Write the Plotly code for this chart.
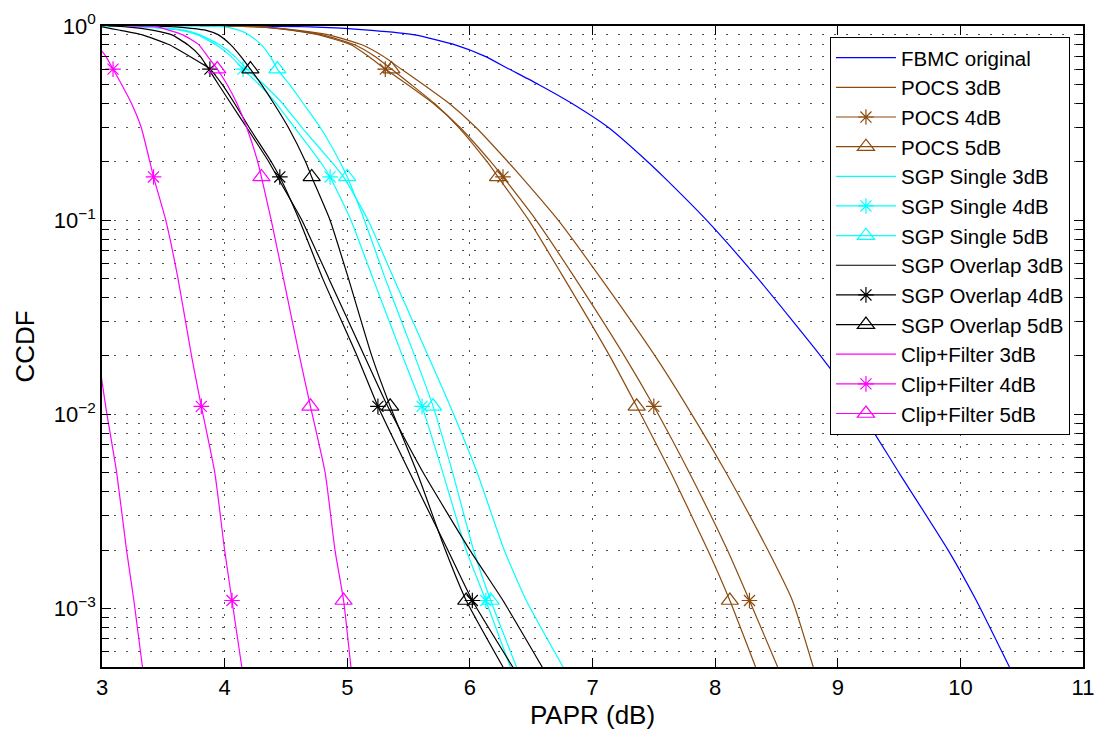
import math
import plotly.graph_objects as go

CCDF_LEVELS = [1.0, 0.99, 0.95, 0.9, 0.8, 0.7, 0.6, 0.5, 0.4, 0.3, 0.2, 0.167,
               0.1, 0.05, 0.02, 0.011, 0.005, 0.002, 0.0011, 0.0005]
# levels where the marker symbols are drawn
MARKER_LEVELS = [0.6, 0.167, 0.011, 0.0011]

fbmc_original = [3.8, 4.7, 5.2, 5.55, 5.88, 6.12, 6.32, 6.56, 6.83, 7.13, 7.45, 7.58,
                 7.93, 8.35, 8.86, 9.16, 9.50, 9.90, 10.13, 10.40]

pocs_3db = [3.8, 4.29, 4.60, 4.85, 5.12, 5.29, 5.44, 5.62, 5.83, 6.05, 6.31, 6.42,
            6.72, 7.07, 7.51, 7.77, 8.09, 8.43, 8.63, 8.80]
pocs_4db = [3.8, 4.27, 4.55, 4.77, 5.03, 5.17, 5.31, 5.49, 5.70, 5.92, 6.17, 6.27,
            6.54, 6.86, 7.26, 7.50, 7.79, 8.10, 8.28, 8.51]
pocs_5db = [3.8, 4.28, 4.57, 4.80, 5.06, 5.22, 5.36, 5.52, 5.71, 5.91, 6.14, 6.23,
            6.48, 6.77, 7.14, 7.36, 7.64, 7.94, 8.12, 8.33]

sgp_single_3db = [3.0, 3.35, 3.68, 3.80, 3.96, 4.08, 4.18, 4.32, 4.47, 4.63, 4.87, 4.97,
                  5.17, 5.38, 5.66, 5.84, 6.06, 6.28, 6.46, 6.76]
sgp_single_4db = [3.0, 3.30, 3.65, 3.78, 3.93, 4.05, 4.15, 4.28, 4.42, 4.57, 4.78, 4.86,
                  5.03, 5.21, 5.45, 5.61, 5.78, 5.97, 6.13, 6.33]
sgp_single_5db = [3.5, 4.0, 4.12, 4.20, 4.30, 4.37, 4.43, 4.53, 4.64, 4.78, 4.94, 5.00,
                  5.14, 5.31, 5.55, 5.70, 5.86, 6.03, 6.17, 6.38]

sgp_overlap_3db = [3.05, 3.2, 3.42, 3.57, 3.70, 3.80, 3.87, 3.95, 4.05, 4.18, 4.36, 4.43,
                   4.63, 4.85, 5.14, 5.33, 5.62, 6.00, 6.27, 6.59]
sgp_overlap_4db = [2.9, 3.0, 3.15, 3.33, 3.55, 3.71, 3.88, 3.98, 4.08, 4.20, 4.38, 4.45,
                   4.61, 4.80, 5.08, 5.25, 5.51, 5.82, 6.02, 6.35]
sgp_overlap_5db = [3.3, 3.6, 3.85, 3.95, 4.05, 4.13, 4.21, 4.30, 4.40, 4.52, 4.66, 4.71,
                   4.86, 5.01, 5.20, 5.35, 5.57, 5.80, 5.97, 6.27]

clip_filter_3db = [2.2, 2.3, 2.4, 2.45, 2.5, 2.55, 2.58, 2.62, 2.65, 2.68, 2.73, 2.75,
                   2.80, 2.88, 2.97, 3.03, 3.12, 3.20, 3.26, 3.33]
clip_filter_4db = [2.3, 2.6, 2.78, 2.86, 2.95, 3.03, 3.09, 3.16, 3.24, 3.32, 3.39, 3.42,
                   3.52, 3.62, 3.73, 3.81, 3.92, 4.00, 4.06, 4.14]
clip_filter_5db = [3.2, 3.45, 3.55, 3.66, 3.79, 3.86, 3.94, 4.02, 4.10, 4.18, 4.27, 4.30,
                   4.38, 4.48, 4.61, 4.70, 4.82, 4.90, 4.97, 5.03]

SERIES_NAMES = ["FBMC original", "POCS 3dB", "POCS 4dB", "POCS 5dB",
                "SGP Single 3dB", "SGP Single 4dB", "SGP Single 5dB",
                "SGP Overlap 3dB", "SGP Overlap 4dB", "SGP Overlap 5dB",
                "Clip+Filter 3dB", "Clip+Filter 4dB", "Clip+Filter 5dB"]
SERIES_X = [fbmc_original, pocs_3db, pocs_4db, pocs_5db,
            sgp_single_3db, sgp_single_4db, sgp_single_5db,
            sgp_overlap_3db, sgp_overlap_4db, sgp_overlap_5db,
            clip_filter_3db, clip_filter_4db, clip_filter_5db]

X_TICKS = [3, 4, 5, 6, 7, 8, 9, 10, 11]
Y_TICK_VALUES = [1e-3, 1e-2, 1e-1, 1.0]
Y_TICK_LABELS = ["10<sup>\u22123</sup>", "10<sup>\u22122</sup>", "10<sup>\u22121</sup>", "10<sup>0</sup>"]
Y_MIN = 5e-4

BLUE = "rgb(0,0,255)"
BROWN = "rgb(140,75,15)"
CYAN = "rgb(0,255,255)"
BLACK = "rgb(0,0,0)"
MAGENTA = "rgb(255,0,255)"
SERIES_COLORS = [BLUE, BROWN, BROWN, BROWN, CYAN, CYAN, CYAN,
                 BLACK, BLACK, BLACK, MAGENTA, MAGENTA, MAGENTA]
SERIES_SYMBOLS = [None, None, "asterisk-open", "triangle-up-open",
                  None, "asterisk-open", "triangle-up-open",
                  None, "asterisk-open", "triangle-up-open",
                  None, "asterisk-open", "triangle-up-open"]

LINE_W = 1.2
MARKER_SIZE = {"asterisk-open": 13, "triangle-up-open": 15}

fig = go.Figure()
for name, xs, color, sym in zip(SERIES_NAMES, SERIES_X, SERIES_COLORS, SERIES_SYMBOLS):
    fig.add_trace(go.Scatter(x=xs, y=CCDF_LEVELS, mode="lines",
                             line=dict(color=color, width=LINE_W, shape="spline", smoothing=0.5),
                             showlegend=False, hoverinfo="skip"))
    mk = None
    if sym:
        mk = dict(symbol=sym, size=MARKER_SIZE[sym], color=color,
                  line=dict(color=color, width=LINE_W))
        mx = [x for x, y in zip(xs, CCDF_LEVELS) if y in MARKER_LEVELS]
        my = [y for y in CCDF_LEVELS if y in MARKER_LEVELS]
        fig.add_trace(go.Scatter(x=mx, y=my, mode="markers", marker=mk,
                                 showlegend=False, hoverinfo="skip"))
    # legend entry
    fig.add_trace(go.Scatter(x=[None], y=[None], name=name,
                             mode="lines+markers" if sym else "lines",
                             line=dict(color=color, width=LINE_W),
                             marker=mk if mk else dict(size=1)))

GRID_COLOR = "rgba(40,40,40,0.8)"
GRID_DASH = "1.5px,10.5px"

minor_vals = [k * 10 ** e for e in range(-4, 0) for k in range(2, 10) if k * 10 ** e > Y_MIN]

fig.update_layout(
    width=1098, height=736,
    margin=dict(l=102, r=15, t=26, b=69),
    paper_bgcolor="white", plot_bgcolor="white",
    font=dict(family="Liberation Sans, Arial, sans-serif", size=22, color="black"),
    legend=dict(x=0.9867, y=0.983, xanchor="right", yanchor="top",
                bgcolor="white", bordercolor="black", borderwidth=1,
                font=dict(size=20.5), tracegroupgap=0, itemsizing="trace",
                itemwidth=60),
    xaxis=dict(range=[3, 11], tickmode="array", tickvals=X_TICKS, automargin=False,
               ticks="inside", ticklen=9, tickwidth=1, tickcolor="black",
               showline=True, linecolor="black", linewidth=1.5, mirror="ticks",
               showgrid=True, gridcolor=GRID_COLOR, gridwidth=1, griddash=GRID_DASH,
               zeroline=False,
               title=dict(text="PAPR (dB)", standoff=6)),
    yaxis=dict(type="log", range=[math.log10(Y_MIN), 0], automargin=False,
               tickmode="array", tickvals=Y_TICK_VALUES, ticktext=Y_TICK_LABELS,
               ticks="inside", ticklen=9, tickwidth=1, tickcolor="black",
               showline=True, linecolor="black", linewidth=1.5, mirror="ticks",
               showgrid=True, gridcolor=GRID_COLOR, gridwidth=1, griddash=GRID_DASH,
               zeroline=False,
               minor=dict(tickmode="array", tickvals=minor_vals, ticks="inside",
                          ticklen=7, tickcolor="black", showgrid=True,
                          gridcolor=GRID_COLOR, gridwidth=1, griddash=GRID_DASH),
               title=dict(text="CCDF", standoff=12)),
)

fig.write_html("out.html")
